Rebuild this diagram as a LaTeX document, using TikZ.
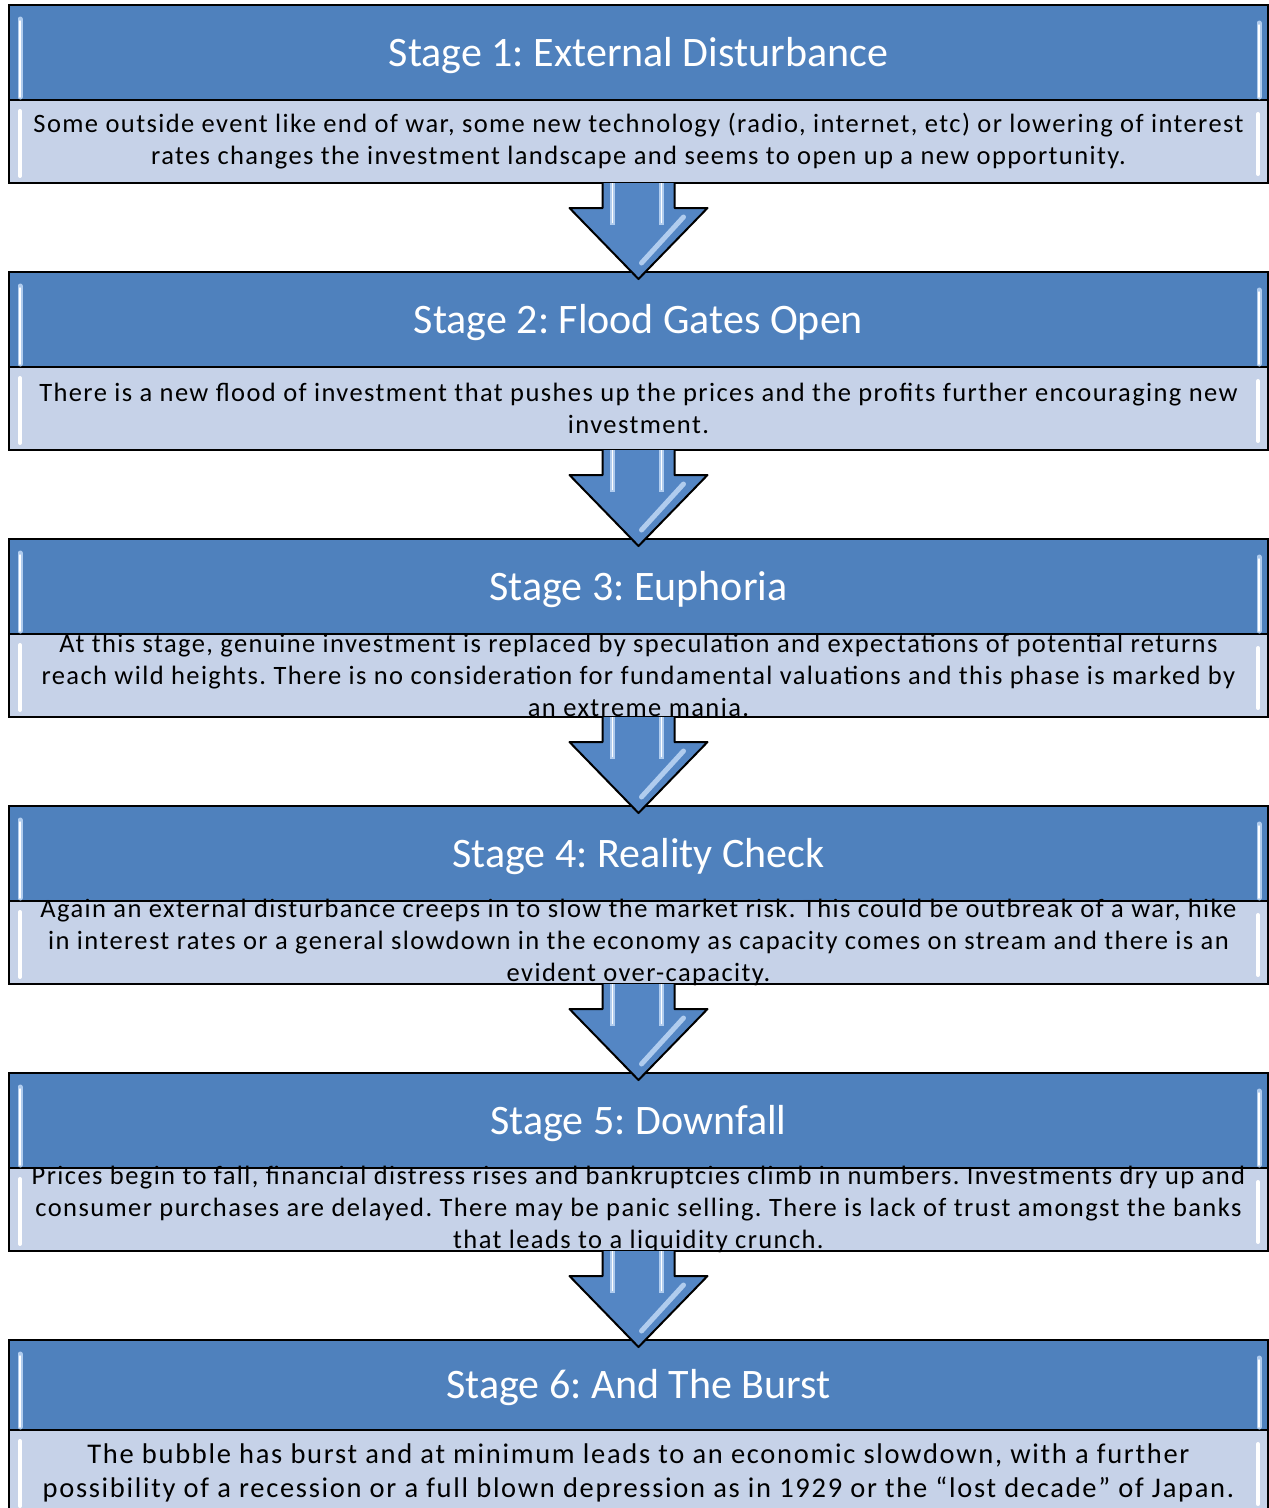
\documentclass[tikz,border=0pt]{standalone}
\usepackage{fontspec}
\setmainfont{Carlito}
\usetikzlibrary{positioning,calc}

\definecolor{titleblue}{RGB}{79,129,189}
\definecolor{descblue}{RGB}{198,210,232}
\definecolor{glowblue}{RGB}{176,204,238}
\definecolor{arrowblue}{RGB}{84,134,196}

\tikzset{
  stagetitle/.style={draw=black, line width=2pt, fill=titleblue, outer sep=0pt, inner sep=0pt,
    minimum width=1259pt, minimum height=95pt, text=white, text height=36pt, text depth=9pt,
    font=\fontsize{42}{50}\selectfont\frenchspacing},
  stagedesc/.style={draw=black, line width=2pt, fill=descblue, outer sep=0pt, inner sep=0pt,
    minimum width=1259pt, minimum height=83pt},
  desctext/.style={align=center, inner sep=0pt,
    font=\fontsize{26.5}{32}\selectfont\addfontfeature{LetterSpace=5.3}\frenchspacing},
  glow/.style={line cap=round, line width=#1},
}

\begin{document}
\begin{tikzpicture}[node distance=89pt]
  \useasboundingbox (0,0) rectangle (1269pt,-1508pt);
  % stage boxes
  \node[stagetitle] (t1) at (638.5pt,-52.5pt) {Stage 1: External Disturbance};
  \node[stagedesc] (d1) [below=0pt of t1] {};
  \node[stagetitle] (t2) [below=of d1] {Stage 2: Flood Gates Open};
  \node[stagedesc] (d2) [below=0pt of t2] {};
  \node[stagetitle] (t3) [below=of d2] {Stage 3: Euphoria};
  \node[stagedesc] (d3) [below=0pt of t3] {};
  \node[stagetitle] (t4) [below=of d3] {Stage 4: Reality Check};
  \node[stagedesc] (d4) [below=0pt of t4] {};
  \node[stagetitle] (t5) [below=of d4] {Stage 5: Downfall};
  \node[stagedesc] (d5) [below=0pt of t5] {};
  \node[stagetitle, minimum height=90pt] (t6) [below=of d5] {Stage 6: And The Burst};
  \node[stagedesc, minimum height=90pt] (d6) [below=0pt of t6] {};
  % glossy edges
  \foreach \i in {1,...,6} {
    \draw[glowblue, glow=5pt] ($(t\i.north west)+(11pt,-14pt)$) -- ($(t\i.south west)+(11pt,3pt)$);
    \draw[white, glow=1.5pt] ($(t\i.north west)+(11pt,-16pt)$) -- ($(t\i.south west)+(11pt,3pt)$);
    \draw[glowblue, glow=5pt] ($(t\i.north east)+(-9pt,-18pt)$) -- ($(t\i.south east)+(-9pt,3pt)$);
    \draw[white, glow=1.5pt] ($(t\i.north east)+(-9pt,-20pt)$) -- ($(t\i.south east)+(-9pt,3pt)$);
    \draw[white, glow=4pt] ($(d\i.north west)+(11pt,-11pt)$) -- ($(d\i.north west)+(11pt,-76pt)$);
    \draw[white, glow=4pt] ($(d\i.north east)+(-10pt,-14pt)$) -- ($(d\i.north east)+(-10pt,-74pt)$);
  }
  % descriptions
  \node[desctext] (s1) at (d1.center) {Some outside event like end of war, some new technology (radio, internet, etc) or lowering of interest\\rates changes the investment landscape and seems to open up a new opportunity.};
  \node[desctext] (s2) at (d2.center) {There is a new flood of investment that pushes up the prices and the profits further encouraging new\\investment.};
  \node[desctext] (s3) at (d3.center) {At this stage, genuine investment is replaced by speculation and expectations of potential returns\\reach wild heights. There is no consideration for fundamental valuations and this phase is marked by\\an extreme mania.};
  \node[desctext] (s4) at (d4.center) {Again an external disturbance creeps in to slow the market risk. This could be outbreak of a war, hike\\in interest rates or a general slowdown in the economy as capacity comes on stream and there is an\\evident over-capacity.};
  \node[desctext] (s5) at (d5.center) {Prices begin to fall, financial distress rises and bankruptcies climb in numbers. Investments dry up and\\consumer purchases are delayed. There may be panic selling. There is lack of trust amongst the banks\\that leads to a liquidity crunch.};
  \node[desctext, font=\fontsize{28.5}{34}\selectfont\addfontfeature{LetterSpace=6}\frenchspacing] (s6) at ($(d6.north)+(0,-43pt)$) {The bubble has burst and at minimum leads to an economic slowdown, with a further\\possibility of a recession or a full blown depression as in 1929 or the “lost decade” of Japan.};
  % arrows between stages
  \foreach \a/\b in {d1/t2,d2/t3,d3/t4,d4/t5,d5/t6} {
    \fill[arrowblue] let \p1=(\a.south), \p2=(\b.north) in
      (\x1-36pt,\y1) -- (\x1-36pt,\y1-25pt) -- (\x1-69pt,\y1-25pt) -- (\x1,\y2-7pt)
      -- (\x1+69pt,\y1-25pt) -- (\x1+36pt,\y1-25pt) -- (\x1+36pt,\y1) -- cycle;
    \draw[glowblue, line width=5pt] let \p1=(\a.south) in (\x1-26pt,\y1) -- (\x1-26pt,\y1-42pt);
    \draw[white, line width=1.5pt] let \p1=(\a.south) in (\x1-26pt,\y1) -- (\x1-26pt,\y1-40pt);
    \draw[glowblue, line width=5pt] let \p1=(\a.south) in (\x1+23pt,\y1) -- (\x1+23pt,\y1-42pt);
    \draw[white, line width=1.5pt] let \p1=(\a.south) in (\x1+23pt,\y1) -- (\x1+23pt,\y1-40pt);
    \draw[glowblue, glow=5pt] let \p1=(\a.south) in (\x1+45pt,\y1-34pt) -- (\x1+3pt,\y1-80pt);
    \draw[black, line width=2pt, line join=round] let \p1=(\a.south), \p2=(\b.north) in
      (\x1-36pt,\y1) -- (\x1-36pt,\y1-25pt) -- (\x1-69pt,\y1-25pt) -- (\x1,\y2-7pt)
      -- (\x1+69pt,\y1-25pt) -- (\x1+36pt,\y1-25pt) -- (\x1+36pt,\y1);
  }
\end{tikzpicture}
\end{document}
